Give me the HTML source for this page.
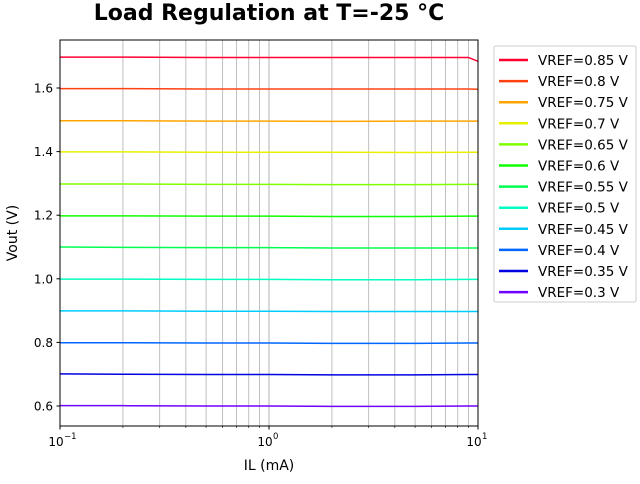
<!DOCTYPE html>
<html><head><meta charset="utf-8"><style>
body{margin:0;background:#fff;font-family:"DejaVu Sans","Liberation Sans",sans-serif;}
svg text{font-family:"DejaVu Sans","Liberation Sans",sans-serif;}
</style></head><body>
<svg id="c" width="640" height="480" xmlns="http://www.w3.org/2000/svg"></svg>
<script>
const currents = [0.1, 0.2, 0.5, 1, 2, 5, 9, 10];
const vrefLabels = ["VREF=0.85 V","VREF=0.8 V","VREF=0.75 V","VREF=0.7 V","VREF=0.65 V","VREF=0.6 V","VREF=0.55 V","VREF=0.5 V","VREF=0.45 V","VREF=0.4 V","VREF=0.35 V","VREF=0.3 V"];
const colors = ["#ff0030","#ff4010","#ffa500","#e8f000","#80ff00","#10ff00","#00ff50","#00ffc0","#00ccff","#0066ff","#0000e0","#7000ff"];
const v085 = [1.697,1.697,1.696,1.696,1.696,1.696,1.696,1.684];
const v080 = [1.598,1.598,1.597,1.597,1.597,1.597,1.597,1.596];
const v075 = [1.497,1.497,1.496,1.496,1.495,1.496,1.496,1.496];
const v070 = [1.399,1.399,1.398,1.398,1.398,1.397,1.398,1.398];
const v065 = [1.298,1.298,1.297,1.297,1.296,1.296,1.297,1.297];
const v060 = [1.198,1.198,1.197,1.197,1.196,1.196,1.197,1.197];
const v055 = [1.100,1.099,1.098,1.098,1.097,1.097,1.097,1.097];
const v050 = [0.999,0.999,0.998,0.998,0.997,0.997,0.998,0.998];
const v045 = [0.899,0.899,0.898,0.898,0.897,0.897,0.897,0.897];
const v040 = [0.799,0.799,0.798,0.798,0.797,0.797,0.798,0.798];
const v035 = [0.701,0.700,0.699,0.699,0.698,0.698,0.699,0.699];
const v030 = [0.601,0.601,0.600,0.600,0.599,0.599,0.600,0.600];
const series = [v085,v080,v075,v070,v065,v060,v055,v050,v045,v040,v035,v030];
const yTicks = [0.6,0.8,1.0,1.2,1.4,1.6];

const NS="http://www.w3.org/2000/svg", svg=document.getElementById('c');
const X0=60,X1=478,Y0=40,Y1=426;
const xs=v=>X0+(Math.log10(v)+1)/2*(X1-X0);
const ys=v=>406-(v-0.6)*318;
function el(t,a,p){const e=document.createElementNS(NS,t);for(const k in a)e.setAttribute(k,a[k]);(p||svg).appendChild(e);return e;}
for(let d=0;d<2;d++)for(let m=1;m<=10;m++){const v=Math.pow(10,d-1)*m;if(v<=0.1||v>=10)continue;
 const g=el('line',{x1:xs(v),x2:xs(v),y1:Y0,y2:Y1,stroke:'#b0b0b0','stroke-width':0.8});
 
 }
series.forEach((s,i)=>{
 const p=el('polyline',{points:s.map((v,j)=>xs(currents[j])+','+ys(v)).join(' '),fill:'none',stroke:colors[i],'stroke-width':1.5});
 
 
});
el('rect',{x:X0,y:Y0,width:X1-X0,height:Y1-Y0,fill:'none',stroke:'#000','stroke-width':1});
yTicks.forEach(t=>{const y=ys(t);el('line',{x1:X0-3.5,x2:X0,y1:y,y2:y,stroke:'#000'});
 const tx=el('text',{x:X0-7,y:y+4.5,'text-anchor':'end','font-size':12});tx.textContent=t.toFixed(1);
 
 });
[[0.1,'10','−1'],[1,'10','0'],[10,'10','1']].forEach(([v,b,e])=>{const x=xs(v);el('line',{x1:x,x2:x,y1:Y1,y2:Y1+3.5,stroke:'#000'});
 const tx=el('text',{x:x-4,y:Y1+20,'text-anchor':'middle','font-size':12});tx.textContent=b;
 
 
 const sp=el('text',{x:x+4,y:Y1+13,'text-anchor':'start','font-size':8.5});sp.textContent=e;});
for(let d=0;d<2;d++)for(let m=2;m<=9;m++){const x=xs(Math.pow(10,d-1)*m);el('line',{x1:x,x2:x,y1:Y1,y2:Y1+2,stroke:'#000','stroke-width':0.6});}
let t=el('text',{x:269,y:470,'text-anchor':'middle','font-size':14});t.textContent='IL (mA)';

t=el('text',{x:17,y:233,'text-anchor':'middle','font-size':14,transform:'rotate(-90 17 233)'});t.textContent='Vout (V)';

t=el('text',{x:269,y:20,'text-anchor':'middle','font-size':22,'font-weight':'bold'});t.textContent='Load Regulation at T=-25 °C';

const lg=el('g',{});


el('rect',{x:494,y:46,width:142,height:256,rx:2,fill:'#fff',stroke:'#ccc'},lg);
vrefLabels.forEach((l,i)=>{const y=60+i*21.1;
 el('line',{x1:499,x2:528,y1:y,y2:y,stroke:colors[i],'stroke-width':2.5},lg);
 const tx=el('text',{x:538,y:y+5,'font-size':13.5},lg);tx.textContent=l;
 
 });
</script>
</body></html>
